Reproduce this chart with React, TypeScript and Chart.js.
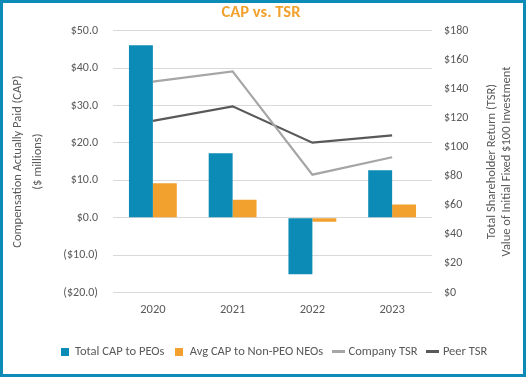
import React, { useEffect, useRef } from "react";
import { Chart, registerables } from "chart.js";

Chart.register(...registerables);

const categories = ["2020", "2021", "2022", "2023"];
const totalCapPeos = [46.1, 17.2, -15.1, 12.7];
const avgCapNeos = [9.2, 4.8, -1.1, 3.5];
const companyTsr = [145, 152, 81, 93];
const peerTsr = [118, 128, 103, 108];

const leftTitle = ["Compensation Actually Paid (CAP)", "($ millions)"];
const rightTitle = ["Total Shareholder Return (TSR)", "Value of Initial Fixed $100 Investment"];
const chartTitle = "CAP vs. TSR";

const FONT = "Carlito, Lato, 'Open Sans', sans-serif";
const TEXT = "#595959";
const BLUE = "#0b8bb6";
const ORANGE = "#f2a12e";
const LIGHT = "#a6a6a6";
const DARK = "#595959";

function swatch(w: number, h: number, color: string) {
  const c = document.createElement("canvas");
  c.width = w;
  c.height = h;
  const g = c.getContext("2d")!;
  g.fillStyle = color;
  g.fillRect(0, 0, w, h);
  return c;
}

export default function App() {
  const ref = useRef<HTMLCanvasElement>(null);
  useEffect(() => {
    if (!ref.current) return;
    const textPlugin = {
      id: "extraText",
      afterDraw(chart: any) {
        const ctx = chart.ctx;
        const a = chart.chartArea;
        const cy = (a.top + a.bottom) / 2;
        ctx.save();
        ctx.fillStyle = ORANGE;
        ctx.font = `bold 16.5px ${FONT}`;
        ctx.textAlign = "center";
        ctx.textBaseline = "middle";
        ctx.fillText(chartTitle, 258, 10);
        ctx.fillStyle = TEXT;
        ctx.font = `12.5px ${FONT}`;
        const drawV = (text: string, x: number) => {
          ctx.save();
          ctx.translate(x, cy);
          ctx.rotate(-Math.PI / 2);
          ctx.fillText(text, 0, 0);
          ctx.restore();
        };
        drawV(leftTitle[0], 15);
        drawV(leftTitle[1], 35);
        drawV(rightTitle[0], 489);
        drawV(rightTitle[1], 504);
        ctx.restore();
      },
    };
    const chart = new Chart(ref.current, {
      type: "bar",
      plugins: [textPlugin],
      data: {
        labels: categories,
        datasets: [
          {
            type: "line",
            label: "Company TSR",
            data: companyTsr,
            borderColor: LIGHT,
            backgroundColor: LIGHT,
            borderWidth: 2.2,
            pointRadius: 0,
            pointStyle: swatch(13, 3, LIGHT),
            yAxisID: "y2",
            order: 0,
          } as any,
          {
            type: "line",
            label: "Peer TSR",
            data: peerTsr,
            borderColor: DARK,
            backgroundColor: DARK,
            borderWidth: 2.2,
            pointRadius: 0,
            pointStyle: swatch(13, 3, DARK),
            yAxisID: "y2",
            order: 0,
          } as any,
          {
            label: "Total CAP to PEOs",
            data: totalCapPeos,
            backgroundColor: BLUE,
            pointStyle: swatch(8, 8, BLUE),
            yAxisID: "y",
            order: 1,
          } as any,
          {
            label: "Avg CAP to Non-PEO NEOs",
            data: avgCapNeos,
            backgroundColor: ORANGE,
            pointStyle: swatch(8, 8, ORANGE),
            yAxisID: "y",
            order: 1,
          } as any,
        ],
      },
      options: {
        animation: false,
        responsive: false,
        maintainAspectRatio: false,
        layout: { padding: { left: 22, right: 0, top: 27.7, bottom: 6 } },
        datasets: { bar: { categoryPercentage: 0.6, barPercentage: 1 } },
        plugins: {
          title: { display: false },
          legend: {
            position: "bottom",
            labels: {
              usePointStyle: true,
              boxWidth: 8,
              boxHeight: 8,
              color: TEXT,
              font: { family: FONT, size: 12.5 },
              padding: 11,
              sort: (a: any, b: any) => {
                const o = ["Total CAP to PEOs", "Avg CAP to Non-PEO NEOs", "Company TSR", "Peer TSR"];
                return o.indexOf(a.text) - o.indexOf(b.text);
              },
            },
          },
          tooltip: { enabled: false },
        },
        scales: {
          x: {
            grid: { display: false, drawTicks: false },
            border: { display: false },
            ticks: { color: TEXT, font: { family: FONT, size: 12.5 }, padding: 9.5 },
            afterFit: (s: any) => {
              s.height = 42;
            },
          },
          y: {
            position: "left",
            min: -20,
            max: 50,
            grid: { color: "#d9d9d9", drawTicks: false, lineWidth: 1 },
            border: { display: false },
            ticks: {
              stepSize: 10,
              color: TEXT,
              padding: 15,
              font: { family: FONT, size: 12 },
              callback: (v: any) => (v < 0 ? `($${Math.abs(v).toFixed(1)})` : `$${Number(v).toFixed(1)}`),
            },
            afterFit: (s: any) => {
              s.width = 88;
            },
          },
          y2: {
            position: "right",
            min: 0,
            max: 180,
            grid: { display: false, drawTicks: false },
            border: { display: false },
            ticks: {
              stepSize: 20,
              color: TEXT,
              padding: 12,
              font: { family: FONT, size: 12 },
              callback: (v: any) => `$${v}`,
            },
            afterFit: (s: any) => {
              s.width = 91;
            },
          },
        },
      } as any,
    });
    return () => chart.destroy();
  }, []);

  return (
    <div
      style={{
        position: "fixed",
        left: 0,
        top: 0,
        width: 526,
        height: 377,
        boxSizing: "border-box",
        border: "3px solid #0b8bb6",
        background: "#fff",
      }}
    >
      <canvas ref={ref} width={520} height={371} style={{ display: "block" }} />
    </div>
  );
}
